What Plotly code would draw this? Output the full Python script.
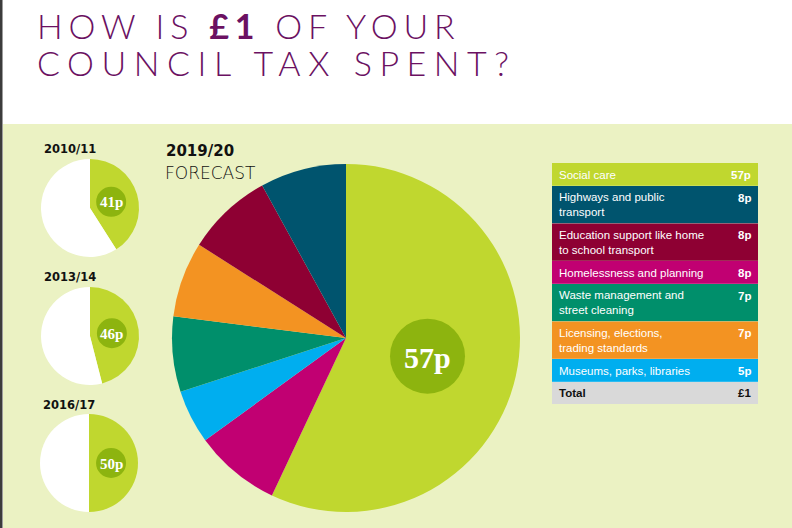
import math
import plotly.graph_objects as go

W, H = 792, 528

# ---------------- data ----------------
categories = [
    "Social care",
    "Highways and public transport",
    "Education support like home to school transport",
    "Homelessness and planning",
    "Waste management and street cleaning",
    "Licensing, elections, trading standards",
    "Museums, parks, libraries",
]
table_labels = [
    "Social care",
    "Highways and public<br>transport",
    "Education support like home<br>to school transport",
    "Homelessness and planning",
    "Waste management and<br>street cleaning",
    "Licensing, elections,<br>trading standards",
    "Museums, parks, libraries",
]
values_2019 = [57, 8, 8, 8, 7, 7, 5]
colors = ["#C0D72F", "#00546E", "#8E0033", "#C10072", "#008F6B", "#F39322", "#00AEEF"]
# order in which slices run clockwise from 12 o'clock
pie_order = [
    "Social care",
    "Homelessness and planning",
    "Museums, parks, libraries",
    "Waste management and street cleaning",
    "Licensing, elections, trading standards",
    "Education support like home to school transport",
    "Highways and public transport",
]
history_years = ["2010/11", "2013/14", "2016/17"]
history_social = [41, 46, 50]
total_label = "£1"

# ---------------- styling / layout ----------------
BG_GREEN = "#EBF2C3"
BADGE = "#8DB40F"
PURPLE = "#6B1162"


def px(x):
    return x / W


def py(y):
    return 1 - y / H


def domain_for(cx, cy, r):
    return dict(x=[px(cx - r), px(cx + r)], y=[py(cy + r), py(cy - r)])


def badge_pos(cx, cy, r, share, total, frac):
    ang = math.radians(360 * share / total / 2)
    return cx + math.sin(ang) * r * frac, cy - math.cos(ang) * r * frac


fig = go.Figure()
shapes = []
annotations = []

# background
shapes.append(dict(type="rect", xref="paper", yref="paper", x0=px(3), x1=1, y0=0, y1=py(124),
                   fillcolor=BG_GREEN, line=dict(width=0), layer="below"))
shapes.append(dict(type="rect", xref="paper", yref="paper", x0=0, x1=px(2.5), y0=0, y1=1,
                   fillcolor="#3C3C3C", line=dict(width=0), layer="below"))

# big pie
idx = [categories.index(c) for c in pie_order]
BIG_C = (346, 338)
BIG_R = 174
fig.add_trace(go.Pie(
    values=[values_2019[i] for i in idx],
    labels=[categories[i] for i in idx],
    marker=dict(colors=[colors[i] for i in idx], line=dict(width=0)),
    sort=False, direction="clockwise", rotation=0,
    textinfo="none", hoverinfo="label+value", showlegend=False,
    domain=domain_for(BIG_C[0], BIG_C[1], BIG_R),
))
bx, by = badge_pos(BIG_C[0], BIG_C[1], BIG_R, values_2019[0], sum(values_2019), 0.48)
br = 37.5
shapes.append(dict(type="circle", xref="paper", yref="paper",
                   x0=px(bx - br), x1=px(bx + br), y0=py(by + br), y1=py(by - br),
                   fillcolor=BADGE, line=dict(width=0), layer="above"))
annotations.append(dict(x=px(bx), y=py(by + 1), xref="paper", yref="paper", showarrow=False,
                        text="<b>%dp</b>" % values_2019[0], xanchor="center", yanchor="middle",
                        font=dict(family="Liberation Serif", size=30, color="white")))

annotations.append(dict(x=px(164), y=py(151), xref="paper", yref="paper", showarrow=False,
                        text="<b>2019/20</b>", xanchor="left", yanchor="middle",
                        font=dict(family="DejaVu Sans", size=15, color="#111111")))
annotations.append(dict(x=px(163), y=py(173), xref="paper", yref="paper", showarrow=False,
                        text="FORECAST", xanchor="left", yanchor="middle",
                        font=dict(family="DejaVu Sans", size=17, color="#111111", weight=200)))

# small pies
small_centres = [(90, 208), (90, 336), (89, 463)]
SMALL_R = 49
year_label_y = [149, 277, 405]
for (cx, cy), yr, share, ly in zip(small_centres, history_years, history_social, year_label_y):
    fig.add_trace(go.Pie(
        values=[share, 100 - share],
        labels=[categories[0], "Other"],
        marker=dict(colors=[colors[0], "#FFFFFF"], line=dict(width=0)),
        sort=False, direction="clockwise", rotation=0,
        textinfo="none", hoverinfo="label+value", showlegend=False,
        domain=domain_for(cx, cy, SMALL_R),
    ))
    sx, sy = badge_pos(cx, cy, SMALL_R, share, 100, 0.45)
    sr = 15
    shapes.append(dict(type="circle", xref="paper", yref="paper",
                       x0=px(sx - sr), x1=px(sx + sr), y0=py(sy + sr), y1=py(sy - sr),
                       fillcolor=BADGE, line=dict(width=0), layer="above"))
    annotations.append(dict(x=px(sx), y=py(sy + 0.5), xref="paper", yref="paper", showarrow=False,
                            text="<b>%dp</b>" % share, xanchor="center", yanchor="middle",
                            font=dict(family="Liberation Serif", size=15, color="white")))
    annotations.append(dict(x=px(cx - 48), y=py(ly), xref="paper", yref="paper", showarrow=False,
                            text="<b>%s</b>" % yr, xanchor="left", yanchor="middle",
                            font=dict(family="DejaVu Sans", size=11.5, color="#111111")))

# table
TX0, TX1 = 552, 758
y = 163
SINGLE, DOUBLE = 23, 37.5
for lab, val, col in zip(table_labels, values_2019, colors):
    h = DOUBLE if "<br>" in lab else SINGLE
    shapes.append(dict(type="rect", xref="paper", yref="paper",
                       x0=px(TX0), x1=px(TX1), y0=py(y + h), y1=py(y),
                       fillcolor=col, line=dict(width=0), layer="above"))
    if "<br>" in lab:
        annotations.append(dict(x=px(557), y=py(y + 3), xref="paper", yref="paper", showarrow=False,
                                text=lab, xanchor="left", yanchor="top", align="left",
                                font=dict(family="Liberation Sans", size=11.5, color="white")))
        vy = y + 11.5
    else:
        annotations.append(dict(x=px(557), y=py(y + h / 2), xref="paper", yref="paper", showarrow=False,
                                text=lab, xanchor="left", yanchor="middle", align="left",
                                font=dict(family="Liberation Sans", size=11.5, color="white")))
        vy = y + h / 2
    annotations.append(dict(x=px(753), y=py(vy), xref="paper", yref="paper", showarrow=False,
                            text="<b>%dp</b>" % val, xanchor="right", yanchor="middle",
                            font=dict(family="Liberation Sans", size=11.5, color="white")))
    y += h
    shapes.append(dict(type="line", xref="paper", yref="paper", x0=px(TX0), x1=px(TX1),
                       y0=py(y), y1=py(y), line=dict(color="rgba(255,255,255,0.35)", width=1),
                       layer="above"))
h = 22
shapes.append(dict(type="rect", xref="paper", yref="paper",
                   x0=px(TX0), x1=px(TX1), y0=py(y + h), y1=py(y),
                   fillcolor="#D9D9D9", line=dict(width=0), layer="above"))
annotations.append(dict(x=px(557), y=py(y + h / 2), xref="paper", yref="paper", showarrow=False,
                        text="<b>Total</b>", xanchor="left", yanchor="middle",
                        font=dict(family="Liberation Sans", size=11.5, color="#111111")))
annotations.append(dict(x=px(753), y=py(y + h / 2), xref="paper", yref="paper", showarrow=False,
                        text="<b>%s</b>" % total_label, xanchor="right", yanchor="middle",
                        font=dict(family="Liberation Sans", size=11.5, color="#111111")))

# title
annotations.append(dict(x=px(35), y=py(25), xref="paper", yref="paper", showarrow=False,
                        text="HOW IS <b>£1</b> OF YOUR", xanchor="left", yanchor="middle",
                        font=dict(family="Lato", size=34, color=PURPLE, weight=300)))
annotations.append(dict(x=px(35), y=py(62), xref="paper", yref="paper", showarrow=False,
                        text="COUNCIL TAX SPENT?", xanchor="left", yanchor="middle",
                        font=dict(family="Lato", size=34, color=PURPLE, weight=300)))

fig.update_layout(
    width=W, height=H,
    margin=dict(l=0, r=0, t=0, b=0),
    paper_bgcolor="white", plot_bgcolor="white",
    shapes=shapes, annotations=annotations,
)

# widen the title's letter spacing (as in the original lettering), keeping the left edge fixed
post = """
function spread(t, target){
  var b0 = t.getBBox();
  var n = t.textContent.length;
  var ls = (target - b0.width) / Math.max(n - 1, 1);
  t.style.letterSpacing = ls + 'px';
  var b1 = t.getBBox();
  var x = parseFloat(t.getAttribute('x') || '0');
  t.setAttribute('x', x + (b0.x - b1.x));
}
document.querySelectorAll('.annotation-text').forEach(function(t){
  var s = t.textContent;
  if (s.indexOf('OF YOUR') >= 0) { spread(t, 418); }
  if (s.indexOf('SPENT') >= 0) { spread(t, 472); }
});
"""
fig.write_html("out.html", post_script=post)
